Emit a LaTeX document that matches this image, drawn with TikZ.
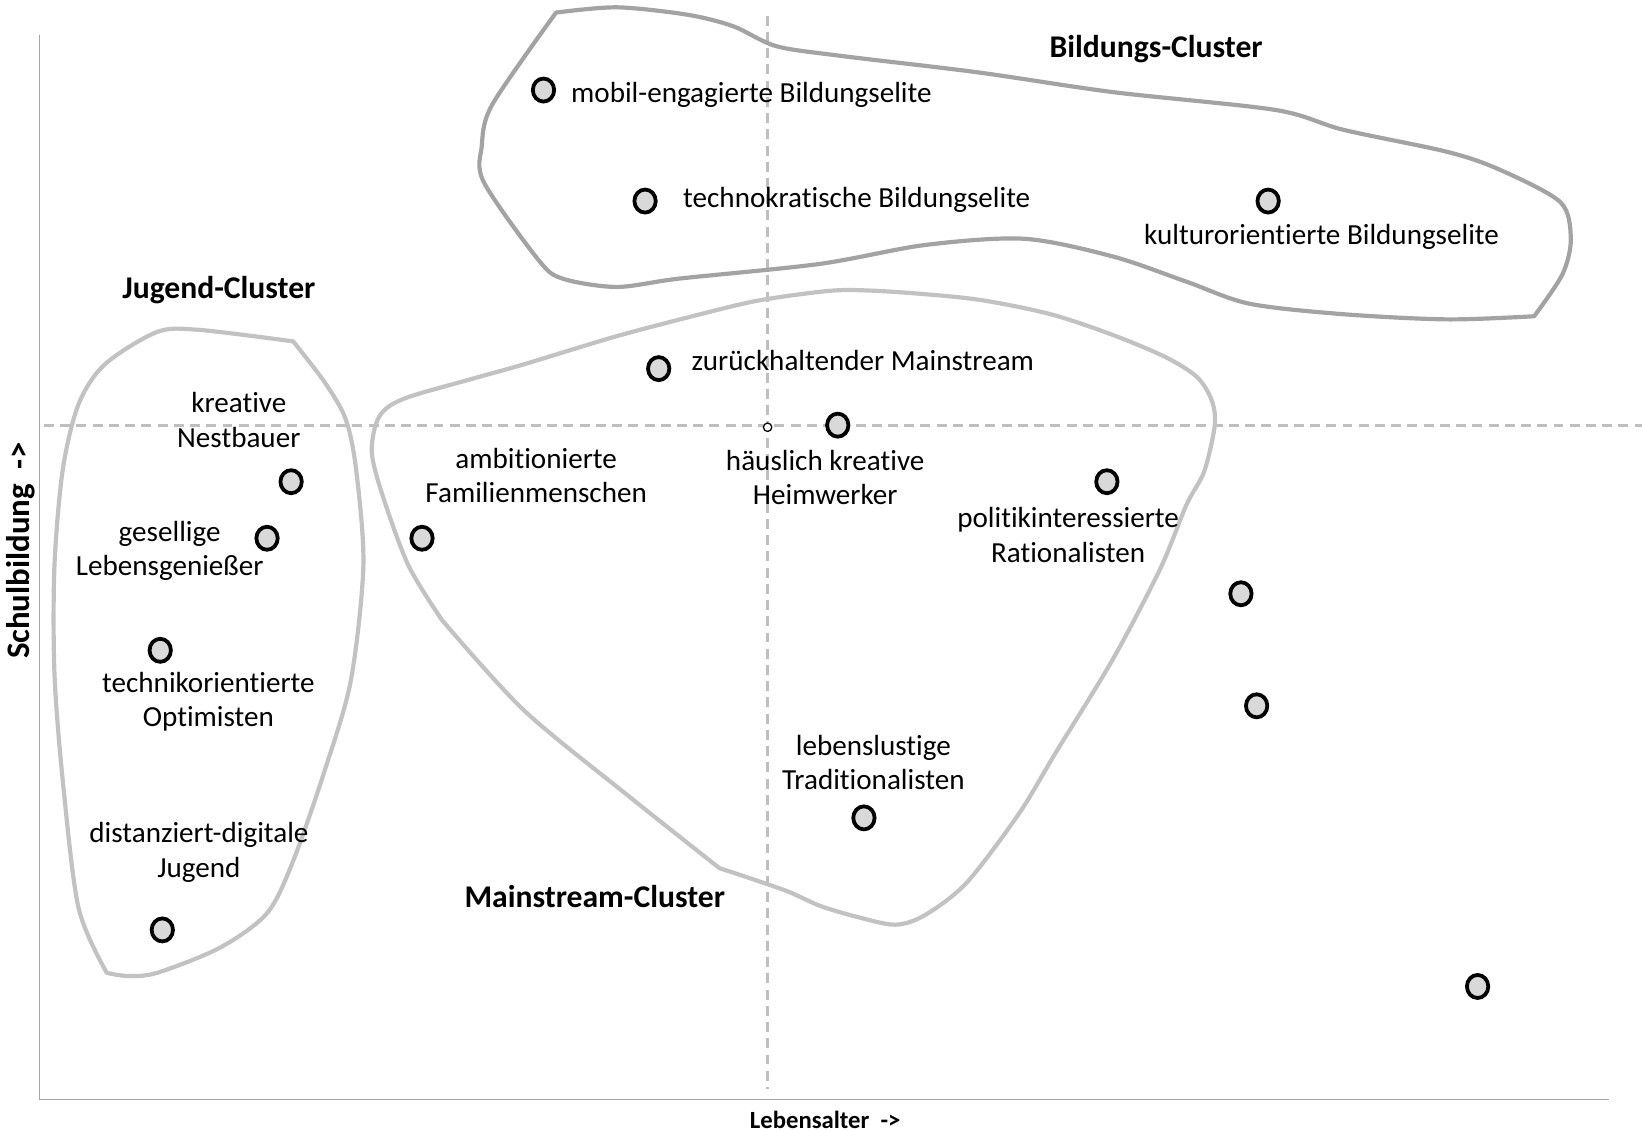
\documentclass[tikz,border=0pt]{standalone}
\usepackage{fontspec}
\setmainfont{Carlito}[Ligatures=NoCommon]
\usetikzlibrary{shapes.geometric}
\begin{document}
\begin{tikzpicture}[x=0.5pt,y=-0.5pt,
  axisline/.style={draw=black!35,line width=0.6pt},
  guideline/.style={draw=black!25,line width=1.3pt,dash pattern=on 4.75pt off 3pt},
  dot/.style={ellipse,draw=black,fill=black!15,line width=1.8pt,minimum width=10.2pt,minimum height=11pt,inner sep=0pt},
  origin/.style={circle,draw=black,fill=white,line width=0.6pt,minimum size=4pt,inner sep=0pt},
  lbl/.style={inner sep=0pt,align=center,font=\fontsize{13.9}{16.5}\selectfont},
  clusterlbl/.style={inner sep=0pt,font=\fontsize{15.1}{18}\selectfont\bfseries},
  blobdark/.style={draw=black!36,line width=2pt,line join=round},
  bloblight/.style={draw=black!24,line width=2pt,line join=round}]
\useasboundingbox (0,0) rectangle (1568,1080);

% axes
\coordinate (ytop) at (38,33);
\coordinate (o) at (38,1050);
\coordinate (xend) at (1536,1050);
\draw[axisline] (ytop) -- (o) -- (xend);

% quadrant guides
\coordinate (vtop) at (733,15);
\coordinate (vbot) at (733,1040);
\coordinate (hl) at (42,406);
\coordinate (hr) at (1568,406);
\draw[guideline] (vtop) -- (vbot);
\draw[guideline] (hl) -- (hr);
\node[origin] (centre) at (733,408) {};

% axis titles
\node[inner sep=0pt,rotate=90,font=\fontsize{15.7}{18}\selectfont\bfseries] (ylab) at (20,526) {Schulbildung\ \ ->};
\node[inner sep=0pt,font=\fontsize{11.8}{14}\selectfont\bfseries] (xlab) at (788,1069) {Lebensalter\ \ ->};

% cluster outlines
\draw[blobdark]
  plot[smooth,tension=0.5] coordinates {
    (531,12) (589,7) (656,14) (700,25) (741,44) (800,53) (933,69) (1063,88)
    (1218,105) (1283,124) (1382,145) (1432,162) (1490,193) (1500,228) (1492,262) (1465,302)}
  -- plot[smooth,tension=0.5] coordinates {
    (1465,302) (1382,305) (1282,300) (1193,290) (1133,269) (1063,245) (978,228)
    (883,234) (783,252) (649,266) (589,274) (537,266) (514,248) (462,174) (460,140)
    (470,100) (531,12)} -- cycle;
\draw[bloblight]
  plot[smooth,tension=0.5] coordinates {
    (687,829) (749,850) (783,865) (820,876) (855,883) (883,874) (923,843) (973,777)
    (1008,719) (1063,629) (1108,543) (1133,482) (1150,450) (1160,406) (1157,382)
    (1143,360) (1113,341) (1063,320) (1003,300) (933,286) (858,279) (805,277)
    (764,281) (719,288) (669,300) (589,321) (500,348) (450,362) (385,381) (362,398)
    (355,431) (365,472) (390,540) (422,592)}
  -- plot[smooth,tension=0.5] coordinates {
    (422,592) (500,678) (600,760) (687,829)} -- cycle;
\draw[bloblight]
  plot[smooth,tension=0.5] coordinates {
    (280,326) (310,365) (330,400) (340,448) (347,540) (335,650) (310,736) (280,822)
    (255,872) (210,905) (150,929) (122,932) (102,929)}
  -- plot[smooth,tension=0.5] coordinates {
    (102,929) (75,867) (60,746) (52,643) (52,540) (60,448) (75,386) (100,348)
    (150,317) (190,315) (280,326)} -- cycle;

% cluster titles
\node[clusterlbl] (cbild) at (1104,47) {Bildungs-Cluster};
\node[clusterlbl] (cjug) at (209,277) {Jugend-Cluster};
\node[clusterlbl] (cmain) at (568,856) {Mainstream-Cluster};

% segments
\node[dot] (mobil) at (519,86) {};
\node[dot] (techno) at (616,192) {};
\node[dot] (kultur) at (1211,192) {};
\node[dot] (zurueck) at (629,352) {};
\node[dot] (haeusl) at (800,406) {};
\node[dot] (nest) at (278,460) {};
\node[dot] (gesell) at (255,514) {};
\node[dot] (ambit) at (403,514) {};
\node[dot] (politik) at (1057,460) {};
\node[dot] (technik) at (153,621) {};
\node[dot] (s11) at (1185,567) {};
\node[dot] (s12) at (1200,674) {};
\node[dot] (lustig) at (825,781) {};
\node[dot] (digital) at (155,888) {};
\node[dot] (s15) at (1411,942) {};

% segment labels
\node[lbl,anchor=west] (lmobil) at (545,91) {mobil-engagierte Bildungselite};
\node[lbl,anchor=west] (ltechno) at (652,191) {technokratische Bildungselite};
\node[lbl] (lkultur) at (1262,226) {kulturorientierte Bildungselite};
\node[lbl,anchor=west] (lzurueck) at (660,344) {zurückhaltender Mainstream};
\node[lbl] (lhaeusl) at (788,456) {häuslich kreative\\Heimwerker};
\node[lbl] (lnest) at (228,401) {kreative\\Nestbauer};
\node[lbl] (lgesell) at (162,526) {gesellige\\Lebensgenießer};
\node[lbl] (lambit) at (512,454) {ambitionierte\\Familienmenschen};
\node[lbl] (lpolitik) at (1020,511) {politikinteressierte\\Rationalisten};
\node[lbl] (ltechnik) at (199,670) {technikorientierte\\Optimisten};
\node[lbl] (llustig) at (834,728) {lebenslustige\\Traditionalisten};
\node[lbl] (ldigital) at (190,814) {distanziert-digitale\\Jugend};
\end{tikzpicture}
\end{document}
